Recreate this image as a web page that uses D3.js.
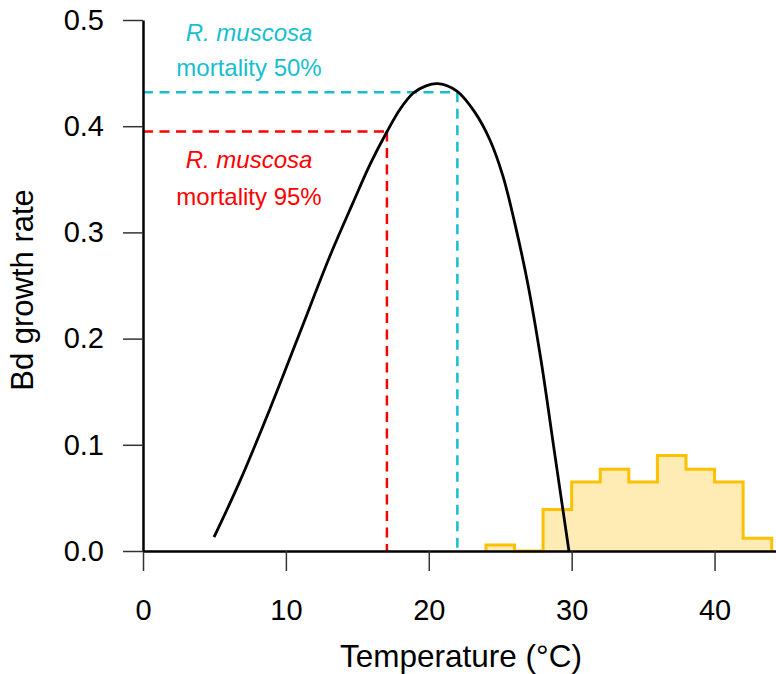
<!DOCTYPE html>
<html lang="en">
<head>
<meta charset="UTF-8">
<title>Bd growth rate vs temperature</title>
<script src="https://d3js.org/d3.v7.min.js"></script>
<style>
    body { margin: 0; background: #fff; }
    svg { display: block; font-family: "Liberation Sans", Arial, sans-serif; }
    .tick text { fill: #000; }
</style>
</head>
<body>
<div id="chart"></div>
<script>
// Bd thermal performance curve
const tempC  = [4.97, 6.79, 8.89, 10.99, 13.09, 14.70, 15.89, 17.08, 17.99, 18.90, 19.81, 20.65, 21.97, 23.23, 24.28, 25.19, 26.03, 26.94, 27.85, 28.83, 29.81];
const growth = [0.013, 0.066, 0.134, 0.206, 0.278, 0.328, 0.364, 0.395, 0.416, 0.431, 0.438, 0.440, 0.433, 0.413, 0.387, 0.353, 0.308, 0.251, 0.180, 0.090, 0.0];

// temperature histogram, 2 degree bins
const binStarts  = [24, 26, 28, 30, 32, 34, 36, 38, 40, 42];
const binHeights = [0.0056, 0, 0.039, 0.065, 0.077, 0.065, 0.090, 0.077, 0.065, 0.012];
const binWidth = 2;

// mortality thresholds
const mortLabels = ["mortality 50%", "mortality 95%"];
const mortTemp   = [22.0, 17.07];
const mortRate   = [0.432, 0.395];
const mortColors = ["#17becf", "#ff0000"];

const xTicks = [0, 10, 20, 30, 40];
const yTicks = [0.0, 0.1, 0.2, 0.3, 0.4, 0.5];

const w = 776, h = 674;
const x = d3.scaleLinear().domain([0, 44.3]).range([143, 776]);
const y = d3.scaleLinear().domain([0, 0.5]).range([551, 20]);

const svg = d3.select("#chart").append("svg").attr("width", w).attr("height", h);

// histogram (outline as a step path)
const histPts = [[binStarts[0], 0]];
binStarts.forEach((b, i) => histPts.push([b, binHeights[i]]));
histPts.push([binStarts[binStarts.length - 1] + binWidth, 0]);

svg.append("path")
    .datum(histPts)
    .attr("fill", "#ffecb5")
    .attr("d", d3.area().curve(d3.curveStepAfter).x(d => x(d[0])).y0(y(0)).y1(d => y(d[1])));
svg.append("path")
    .datum(histPts)
    .attr("fill", "none")
    .attr("stroke", "#ffc000")
    .attr("stroke-width", 3)
    .attr("d", d3.line().curve(d3.curveStepAfter).x(d => x(d[0])).y(d => y(d[1])));

// dashed threshold lines
mortTemp.forEach((t, i) => {
    svg.append("path")
        .attr("fill", "none")
        .attr("stroke", mortColors[i])
        .attr("stroke-width", 2.5)
        .attr("stroke-dasharray", "10,6.5")
        .attr("d", d3.line()([[x(0), y(mortRate[i])], [x(t), y(mortRate[i])]]));
    svg.append("path")
        .attr("fill", "none")
        .attr("stroke", mortColors[i])
        .attr("stroke-width", 2.5)
        .attr("stroke-dasharray", "10,6.5")
        .attr("d", d3.line()([[x(t), y(mortRate[i])], [x(t), y(0)]]));
});

// growth curve
svg.append("path")
    .datum(tempC.map((t, i) => [t, growth[i]]))
    .attr("fill", "none")
    .attr("stroke", "#000")
    .attr("stroke-width", 2.8)
    .attr("d", d3.line().curve(d3.curveCatmullRom.alpha(0.5)).x(d => x(d[0])).y(d => y(d[1])));

// labels
const labelY = [[41, 76], [168, 205]];
mortLabels.forEach((lab, i) => {
    svg.append("text")
        .attr("x", 249)
        .attr("y", labelY[i][0])
        .attr("text-anchor", "middle")
        .attr("fill", mortColors[i])
        .style("font-size", "24px")
        .style("font-style", "italic")
        .text("R. muscosa");
    svg.append("text")
        .attr("x", 249)
        .attr("y", labelY[i][1])
        .attr("text-anchor", "middle")
        .attr("fill", mortColors[i])
        .style("font-size", "24px")
        .text(lab);
});

// axes
const xAxis = d3.axisBottom(x).tickValues(xTicks).tickFormat(d3.format("d")).tickSize(20).tickSizeOuter(0).tickPadding(28);
const yAxis = d3.axisLeft(y).tickValues(yTicks).tickFormat(d3.format(".1f")).tickSize(20).tickSizeOuter(0).tickPadding(19);

const gx = svg.append("g")
    .attr("transform", "translate(0," + y(0) + ")")
    .call(xAxis);
const gy = svg.append("g")
    .attr("transform", "translate(" + x(0) + ",0)")
    .call(yAxis);

[gx, gy].forEach(g => {
    g.select(".domain").attr("stroke", "#000").attr("stroke-width", 2.5);
    g.selectAll(".tick line").attr("stroke", "#333").attr("stroke-width", 1.5);
    g.selectAll(".tick text").style("font-size", "29px");
    g.attr("font-family", null).attr("font-size", null);
});

svg.append("text")
    .attr("x", 461)
    .attr("y", 667)
    .attr("text-anchor", "middle")
    .style("font-size", "31.5px")
    .text("Temperature (°C)");

svg.append("text")
    .attr("transform", "translate(33,290) rotate(-90)")
    .attr("text-anchor", "middle")
    .style("font-size", "31px")
    .text("Bd growth rate");
</script>
</body>
</html>
